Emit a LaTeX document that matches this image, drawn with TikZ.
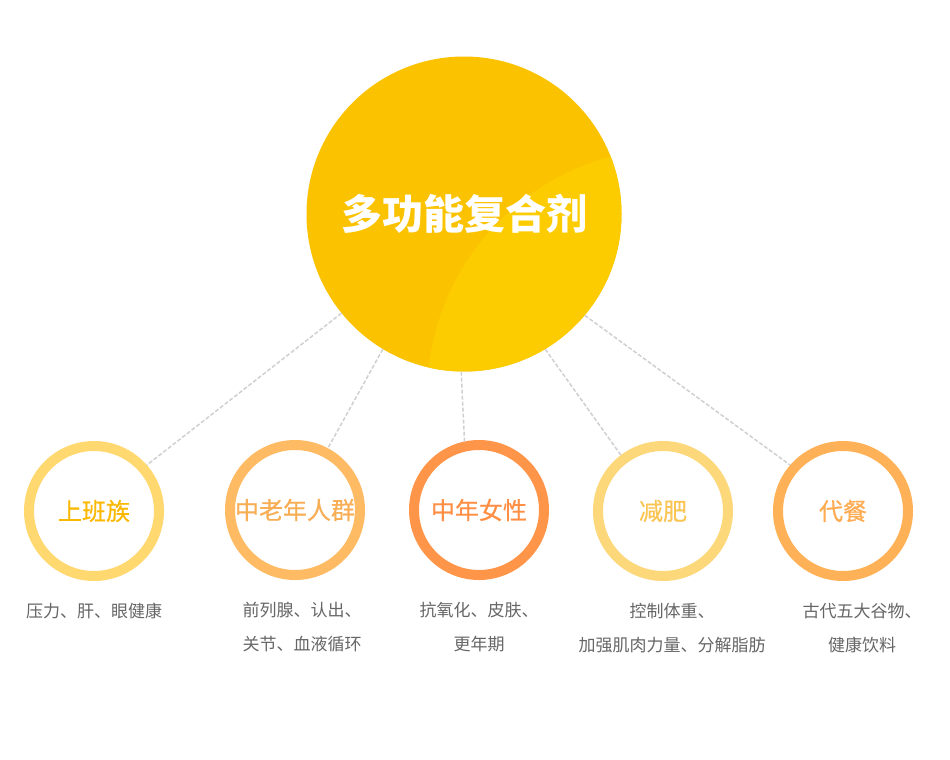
\documentclass[tikz,border=0pt]{standalone}
\usepackage{fontspec}
\setmainfont{Noto Sans CJK SC}
\newfontfamily\cjkmid[FakeBold=0.6]{Noto Sans CJK SC}
\usetikzlibrary{positioning, calc}
\usepackage{xcolor}
\definecolor{hubyellow}{HTML}{FBC200}
\definecolor{hubshine}{HTML}{FCCC00}
\definecolor{descgray}{HTML}{666666}
\definecolor{linkgray}{HTML}{D0D0D0}
\definecolor{ringA}{HTML}{FFD870}
\definecolor{textA}{HTML}{FBB800}
\definecolor{ringB}{HTML}{FEBB63}
\definecolor{textB}{HTML}{F8AE55}
\definecolor{ringC}{HTML}{FF9548}
\definecolor{textC}{HTML}{FF8F45}
\definecolor{ringD}{HTML}{FCD87A}
\definecolor{textD}{HTML}{FAC553}
\definecolor{ringE}{HTML}{FFB157}
\definecolor{textE}{HTML}{FFAB52}

\begin{document}
\begin{tikzpicture}[
    x=1pt, y=-1pt,
    node distance=22pt,
    hub/.style={circle, fill=hubyellow, minimum size=315pt, inner sep=0pt, text=white, font=\fontsize{41}{48}\selectfont\bfseries,
        path picture={\fill[hubshine] ($(path picture bounding box.center)+(211,182)$) circle (248pt);}},
    group/.style={circle, draw=ring#1, text=text#1, line width=10pt, fill=white, minimum size=130pt, inner sep=0pt, font=\fontsize{24}{28}\selectfont\cjkmid},
    desc/.style={align=center, text=descgray, inner sep=0pt, font=\fontsize{17}{34}\selectfont},
    link/.style={draw=linkgray, line width=1.5pt, dash pattern=on 4pt off 2pt}
]
\fill[white] (0,0) rectangle (950,760);
\useasboundingbox (0,0) rectangle (950,760);

\node[hub] (hub) at (464,214) {多功能复合剂};

\node[group=A] (office) at (94,511) {上班族};
\node[group=B] (elder) at (295,510) {中老年人群};
\node[group=C] (women) at (479,510) {中年女性};
\node[group=D] (slim) at (663,511) {减肥};
\node[group=E] (meal) at (843,511) {代餐};

\node[desc, below=of office] (officetxt) {压力、肝、眼健康};
\node[desc, below=of elder, xshift=7pt] (eldertxt) {前列腺、认出、\\关节、血液循环};
\node[desc, below=of women] (womentxt) {抗氧化、皮肤、\\更年期};
\node[desc, below=of slim, xshift=9pt] (slimtxt) {控制体重、\\加强肌肉力量、分解脂肪};
\node[desc, below=of meal, xshift=19pt] (mealtxt) {古代五大谷物、\\健康饮料};

% connectors leave the hub at fixed angles
\draw[link] (hub.219) -- (office.41);
\draw[link] (hub.239) -- (elder.62);
\draw[link] (hub.269) -- (women.102);
\draw[link] (hub.301) -- (slim.127);
\draw[link] (hub.320) -- (meal.139);

\end{tikzpicture}
\end{document}
